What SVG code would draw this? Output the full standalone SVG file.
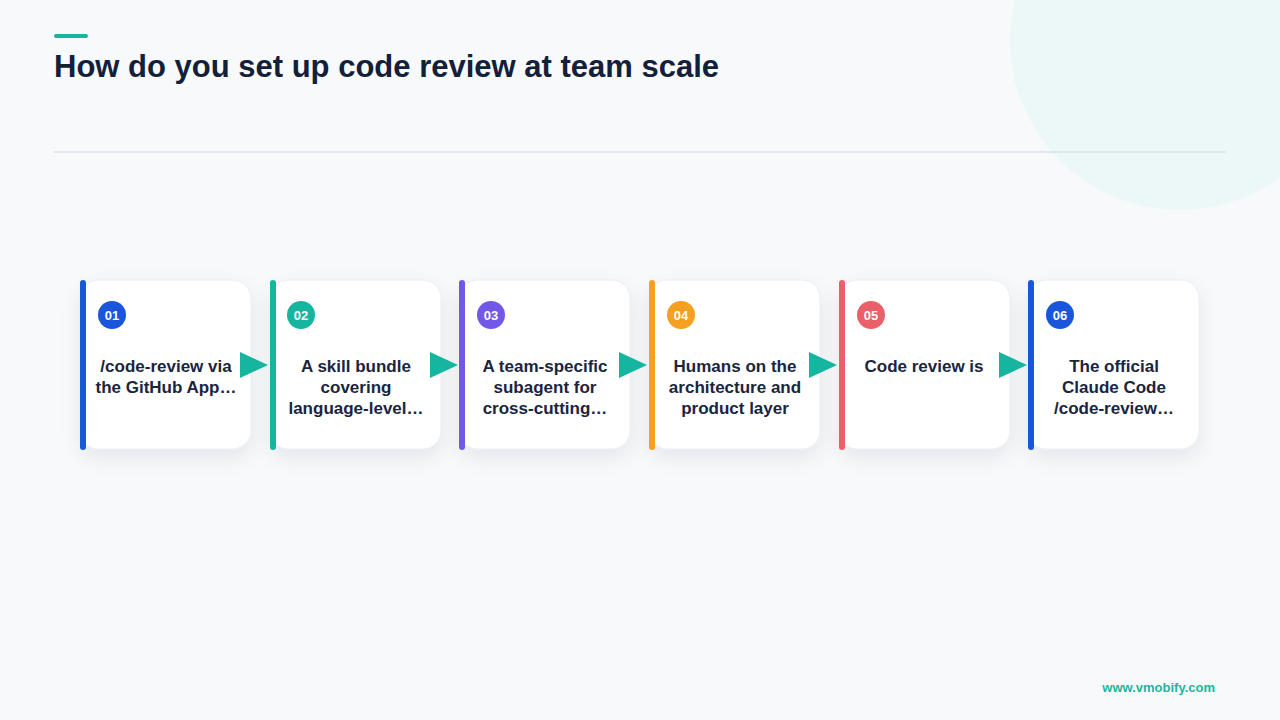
<svg xmlns="http://www.w3.org/2000/svg" width="1280" height="720" viewBox="0 0 1280 720">
<defs>
<filter id="sh" x="-30%" y="-30%" width="160%" height="170%">
<feDropShadow dx="0" dy="8" stdDeviation="10" flood-color="#1e293b" flood-opacity="0.08"/>
</filter>
<style>
.card{fill:#ffffff;stroke:#e8edf3;stroke-width:1;filter:url(#sh)}
.num{font-family:"Liberation Sans",Arial,sans-serif;font-weight:bold;font-size:13px;fill:#ffffff;text-anchor:middle}
.lbl{font-family:"Liberation Sans",Arial,sans-serif;font-weight:bold;font-size:17px;fill:#1a2540;text-anchor:middle}
.arrow{fill:#16b59f}
</style>
</defs>
<rect width="1280" height="720" fill="#f7f9fb"/>
<circle cx="1180" cy="40" r="170" fill="#ebf8f7"/>
<rect x="54" y="34" width="34" height="4" rx="2" fill="#16b59f"/>
<text x="54" y="77" font-family="Liberation Sans,Arial,sans-serif" font-weight="bold" font-size="31" fill="#13203a">How do you set up code review at team scale</text>
<line x1="54" y1="152" x2="1226" y2="152" stroke="#e1e7ef" stroke-width="2"/>

<g id="node1">
<rect class="card" x="80" y="280" width="171" height="169" rx="18"/>
<rect x="80" y="280" width="6" height="170" rx="3" fill="#1a56db"/>
<circle cx="112" cy="315" r="14" fill="#1a56db"/>
<text class="num" x="112" y="320">01</text>
<text class="lbl" x="166" y="372">/code-review via</text>
<text class="lbl" x="166" y="393">the GitHub App…</text>
</g>
<g id="node2">
<rect class="card" x="270" y="280" width="171" height="169" rx="18"/>
<rect x="270" y="280" width="6" height="170" rx="3" fill="#16b59f"/>
<circle cx="301" cy="315" r="14" fill="#16b59f"/>
<text class="num" x="301" y="320">02</text>
<text class="lbl" x="356" y="372">A skill bundle</text>
<text class="lbl" x="356" y="393">covering</text>
<text class="lbl" x="356" y="414">language-level…</text>
</g>
<g id="node3">
<rect class="card" x="459" y="280" width="171" height="169" rx="18"/>
<rect x="459" y="280" width="6" height="170" rx="3" fill="#7357e8"/>
<circle cx="491" cy="315" r="14" fill="#7357e8"/>
<text class="num" x="491" y="320">03</text>
<text class="lbl" x="545" y="372">A team-specific</text>
<text class="lbl" x="545" y="393">subagent for</text>
<text class="lbl" x="545" y="414">cross-cutting…</text>
</g>
<g id="node4">
<rect class="card" x="649" y="280" width="171" height="169" rx="18"/>
<rect x="649" y="280" width="6" height="170" rx="3" fill="#f5a022"/>
<circle cx="681" cy="315" r="14" fill="#f5a022"/>
<text class="num" x="681" y="320">04</text>
<text class="lbl" x="735" y="372">Humans on the</text>
<text class="lbl" x="735" y="393">architecture and</text>
<text class="lbl" x="735" y="414">product layer</text>
</g>
<g id="node5">
<rect class="card" x="839" y="280" width="171" height="169" rx="18"/>
<rect x="839" y="280" width="6" height="170" rx="3" fill="#ea5f6a"/>
<circle cx="871" cy="315" r="14" fill="#ea5f6a"/>
<text class="num" x="871" y="320">05</text>
<text class="lbl" x="924" y="372">Code review is</text>
</g>
<g id="node6">
<rect class="card" x="1028" y="280" width="171" height="169" rx="18"/>
<rect x="1028" y="280" width="6" height="170" rx="3" fill="#1a56db"/>
<circle cx="1060" cy="315" r="14" fill="#1a56db"/>
<text class="num" x="1060" y="320">06</text>
<text class="lbl" x="1114" y="372">The official</text>
<text class="lbl" x="1114" y="393">Claude Code</text>
<text class="lbl" x="1114" y="414">/code-review…</text>
</g>

<g id="connectors">
<polygon class="arrow" points="240,352 268,365 240,378"/>
<polygon class="arrow" points="430,352 458,365 430,378"/>
<polygon class="arrow" points="619,352 647,365 619,378"/>
<polygon class="arrow" points="809,352 837,365 809,378"/>
<polygon class="arrow" points="999,352 1027,365 999,378"/>
</g>

<text x="1215" y="692" text-anchor="end" font-family="Liberation Sans,Arial,sans-serif" font-weight="bold" font-size="13" fill="#1fb59f">www.vmobify.com</text>
</svg>
